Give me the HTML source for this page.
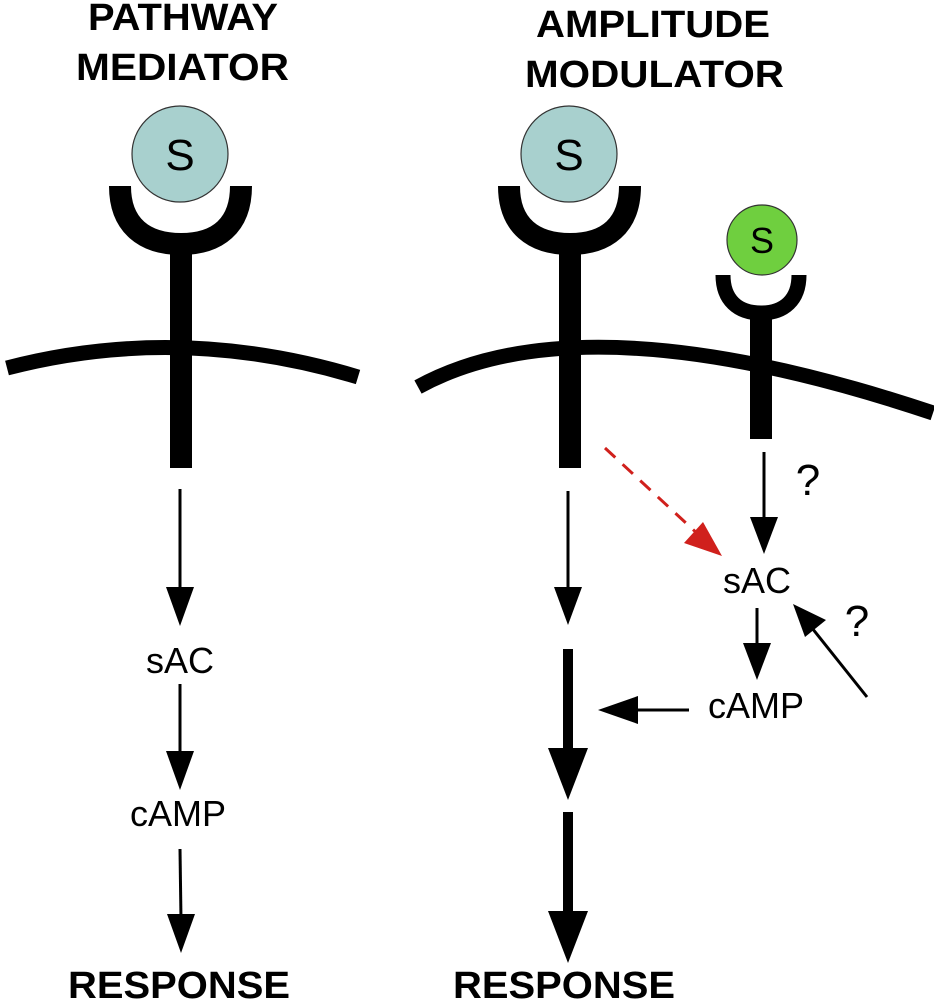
<!DOCTYPE html>
<html><head><meta charset="utf-8"><style>html,body{margin:0;padding:0;background:#fff}svg{display:block}</style></head>
<body>
<svg width="934" height="1000" viewBox="0 0 934 1000" xmlns="http://www.w3.org/2000/svg" font-family="Liberation Sans, sans-serif">
<rect width="934" height="1000" fill="#fff"/>
<!-- titles -->
<g font-weight="bold" font-size="38" fill="#000" text-anchor="start">
<text x="88" y="30" textLength="190" lengthAdjust="spacingAndGlyphs">PATHWAY</text>
<text x="76" y="80" textLength="213" lengthAdjust="spacingAndGlyphs">MEDIATOR</text>
<text x="536" y="37" textLength="234" lengthAdjust="spacingAndGlyphs">AMPLITUDE</text>
<text x="525" y="87" textLength="259" lengthAdjust="spacingAndGlyphs">MODULATOR</text>
<text x="68" y="998" textLength="222" lengthAdjust="spacingAndGlyphs">RESPONSE</text>
<text x="453" y="998" textLength="222" lengthAdjust="spacingAndGlyphs">RESPONSE</text>
</g>
<!-- membranes -->
<path d="M7,368 Q180,323 358,377" fill="none" stroke="#000" stroke-width="15"/>
<path d="M418,387 Q584,296 933,413" fill="none" stroke="#000" stroke-width="15"/>
<!-- left receptor -->
<rect x="170" y="240" width="22" height="228" fill="#000"/>
<path d="M120,186 C120,226 145,244 181,244 C217,244 241,226 241,186" fill="none" stroke="#000" stroke-width="22"/>
<circle cx="180" cy="154" r="48" fill="#a8d0ce" stroke="#333" stroke-width="1.2"/>
<text x="180" y="170" font-size="44" text-anchor="middle">S</text>
<!-- right big receptor -->
<rect x="559" y="240" width="22" height="228" fill="#000"/>
<path d="M509,186 C509,226 534,244 570,244 C606,244 630,226 630,186" fill="none" stroke="#000" stroke-width="22"/>
<circle cx="569" cy="154" r="48" fill="#a8d0ce" stroke="#333" stroke-width="1.2"/>
<text x="569" y="170" font-size="44" text-anchor="middle">S</text>
<!-- small green receptor -->
<rect x="750" y="308" width="22" height="131" fill="#000"/>
<path d="M723,275 C723,300 738,313 761,313 C784,313 799,300 799,275" fill="none" stroke="#000" stroke-width="15"/>
<circle cx="762" cy="240" r="35" fill="#6fcf3f" stroke="#333" stroke-width="1.2"/>
<text x="762" y="253" font-size="36" text-anchor="middle">S</text>
<!-- left pathway -->
<g fill="#000">
<line x1="180" y1="489" x2="180" y2="595" stroke="#000" stroke-width="3"/>
<polygon points="166,587 194,587 180,626"/>
<line x1="180" y1="684" x2="180" y2="758" stroke="#000" stroke-width="3"/>
<polygon points="166,751 194,751 180,790"/>
<line x1="180" y1="849" x2="181" y2="920" stroke="#000" stroke-width="3"/>
<polygon points="167,914 195,914 181,953"/>
</g>
<g font-size="36" fill="#000" text-anchor="middle">
<text x="180" y="673">sAC</text>
<text x="178" y="826">cAMP</text>
<text x="757" y="593">sAC</text>
<text x="756" y="718">cAMP</text>
<text x="808" y="495" font-size="44">?</text>
<text x="857" y="636" font-size="44">?</text>
</g>
<!-- right main pathway -->
<g fill="#000">
<line x1="568" y1="491" x2="568" y2="595" stroke="#000" stroke-width="3"/>
<polygon points="554,587 582,587 568,625"/>
<rect x="563" y="649" width="10" height="105"/>
<polygon points="548,748 588,748 568,800"/>
<rect x="563" y="812" width="10" height="105"/>
<polygon points="548,911 588,911 568,963"/>
<!-- from small stem -->
<line x1="764" y1="452" x2="764" y2="525" stroke="#000" stroke-width="3"/>
<polygon points="750,517 778,517 764,554"/>
<!-- sAC to cAMP -->
<line x1="757" y1="608" x2="757" y2="650" stroke="#000" stroke-width="3"/>
<polygon points="743,643 771,643 757,680"/>
<!-- cAMP to main -->
<line x1="689" y1="710" x2="630" y2="710" stroke="#000" stroke-width="3"/>
<polygon points="638,696 638,724 598,710"/>
<!-- diagonal -->
<line x1="867" y1="697" x2="812" y2="628" stroke="#000" stroke-width="3"/>
<polygon points="793,604 826,620 805,637"/>
</g>
<!-- red dashed -->
<line x1="605" y1="448" x2="700" y2="536" stroke="#d0201c" stroke-width="3" stroke-dasharray="14,10"/>
<polygon points="722,556 684,543 703,522" fill="#d0201c"/>
</svg>
</body></html>
